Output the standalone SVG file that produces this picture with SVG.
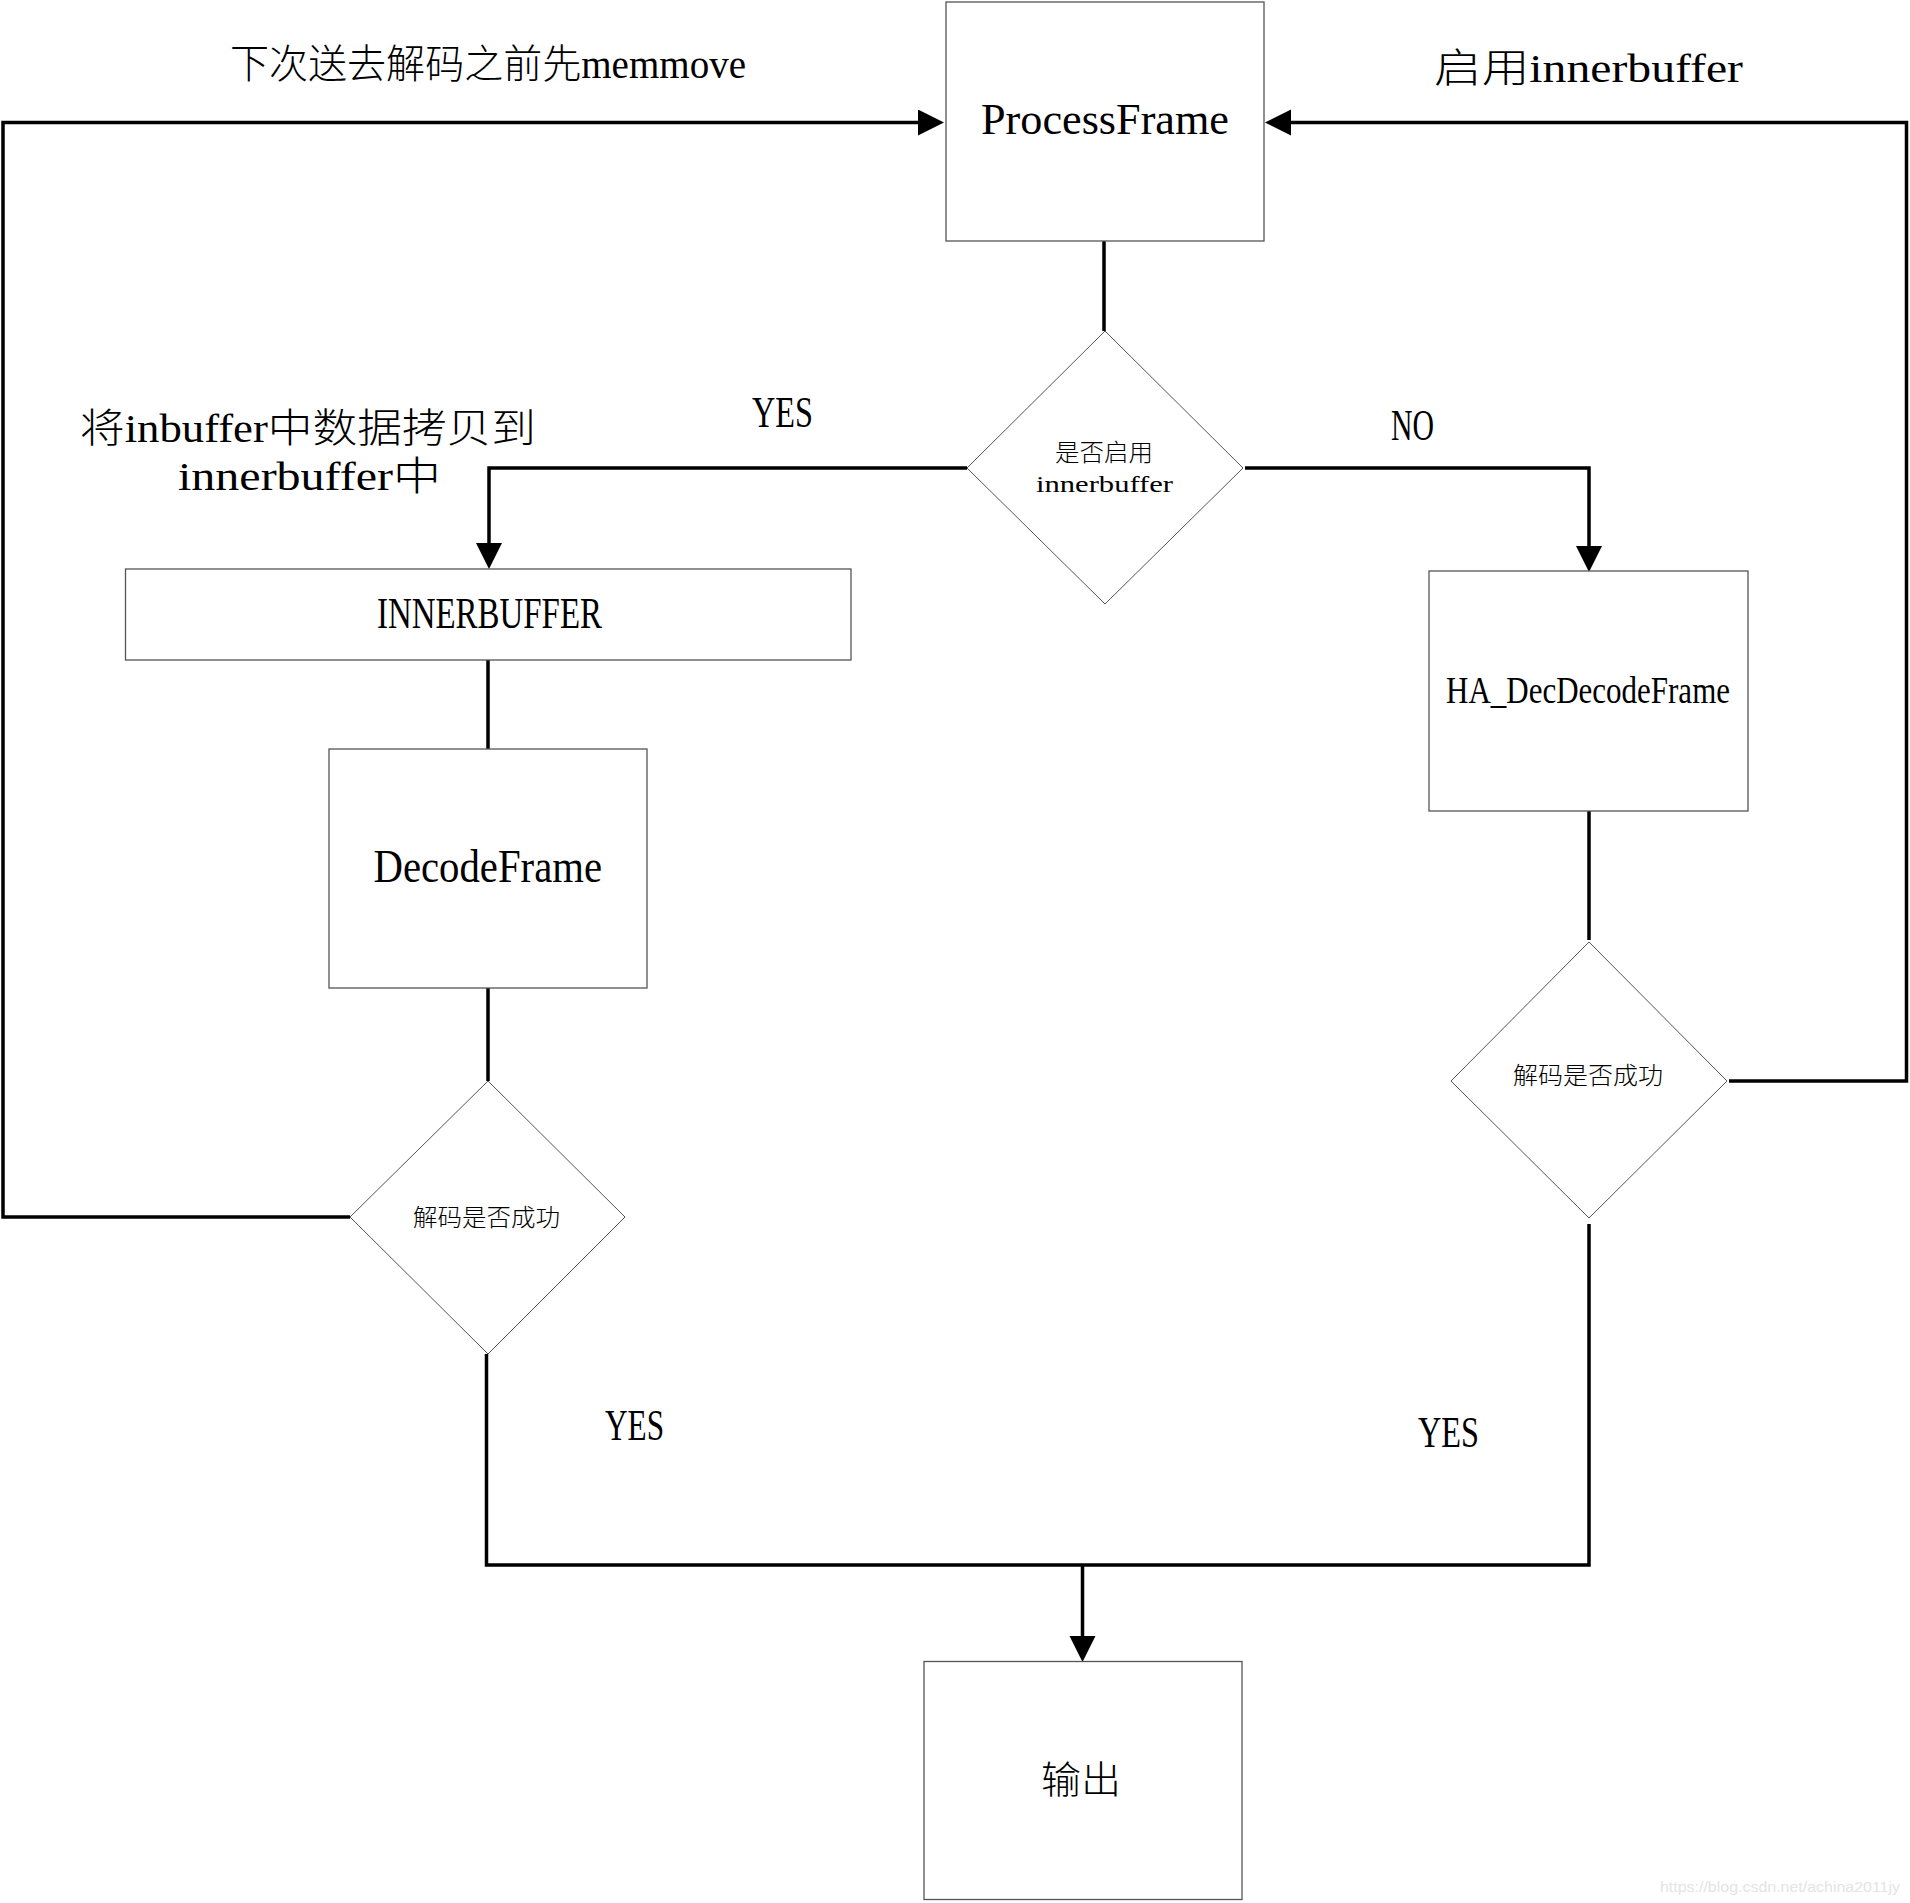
<svg xmlns="http://www.w3.org/2000/svg" width="1910" height="1903" viewBox="0 0 1910 1903">
<style>
.box{fill:#fff;stroke:#555;stroke-width:1.3}
.dia{fill:#fff;stroke:#555;stroke-width:1}
.conn{fill:none;stroke:#000;stroke-width:3.5}
text{font-family:"Liberation Serif","Noto Sans CJK SC",serif;fill:#000;font-weight:300}
.wm{font-family:"Liberation Sans",sans-serif;fill:#e4e4e4;font-size:14px}
</style>
<defs>
<marker id="arr" markerUnits="userSpaceOnUse" markerWidth="27" markerHeight="27" refX="0" refY="13" orient="auto">
<path d="M0,0 L26,13 L0,26 z" fill="#000"/>
</marker>
</defs>
<rect width="1910" height="1903" fill="#fff"/>
<g id="connectors">
<path class="conn" d="M350 1217 H3 V122.5 H918" marker-end="url(#arr)"/>
<path class="conn" d="M1729 1081 H1906.5 V122.5 H1291" marker-end="url(#arr)"/>
<path class="conn" d="M1104 241 V331"/>
<path class="conn" d="M967 468 H489 V543" marker-end="url(#arr)"/>
<path class="conn" d="M1245 468 H1589 V546" marker-end="url(#arr)"/>
<path class="conn" d="M488 660 V749"/>
<path class="conn" d="M488 988 V1081"/>
<path class="conn" d="M1589 811 V940"/>
<path class="conn" d="M1589 1224 V1565 H486.5 V1354"/>
<path class="conn" d="M1082.5 1565 V1636" marker-end="url(#arr)"/>
</g>
<g id="processframe">
<rect class="box" x="946" y="2" width="318" height="239"/>
<text x="981" y="134" font-size="44" textLength="248" lengthAdjust="spacingAndGlyphs">ProcessFrame</text>
</g>
<g id="decision-innerbuffer">
<polygon class="dia" points="1105,331 1243,468 1105,604 967,468"/>
<text x="1055" y="461" font-size="24" textLength="98" lengthAdjust="spacingAndGlyphs">是否启用</text>
<text x="1036" y="492" font-size="24" textLength="137" lengthAdjust="spacingAndGlyphs">innerbuffer</text>
</g>
<g id="innerbuffer">
<rect class="box" x="125.5" y="569" width="725.5" height="91"/>
<text x="377" y="628" font-size="44" textLength="225" lengthAdjust="spacingAndGlyphs">INNERBUFFER</text>
</g>
<g id="decodeframe">
<rect class="box" x="329" y="749" width="318" height="239"/>
<text x="373.5" y="882" font-size="46" textLength="228.5" lengthAdjust="spacingAndGlyphs">DecodeFrame</text>
</g>
<g id="decision-left">
<polygon class="dia" points="488,1081 625,1217 488,1354 350,1217"/>
<text x="413" y="1226" font-size="24" textLength="147" lengthAdjust="spacingAndGlyphs">解码是否成功</text>
</g>
<g id="ha-decdecodeframe">
<rect class="box" x="1429" y="571" width="319" height="240"/>
<text x="1446" y="703" font-size="38" textLength="284" lengthAdjust="spacingAndGlyphs">HA_DecDecodeFrame</text>
</g>
<g id="decision-right">
<polygon class="dia" points="1589,942 1727,1081 1589,1218 1451,1081"/>
<text x="1513" y="1084" font-size="24" textLength="150" lengthAdjust="spacingAndGlyphs">解码是否成功</text>
</g>
<g id="output">
<rect class="box" x="924" y="1661.5" width="318" height="238"/>
<text x="1041" y="1793" font-size="38" textLength="80" lengthAdjust="spacingAndGlyphs">输出</text>
</g>
<g id="labels">
<text x="230" y="78" font-size="40" textLength="516" lengthAdjust="spacingAndGlyphs">下次送去解码之前先memmove</text>
<text x="1434" y="82" font-size="40" textLength="309" lengthAdjust="spacingAndGlyphs">启用innerbuffer</text>
<text x="752" y="427" font-size="44" textLength="61" lengthAdjust="spacingAndGlyphs">YES</text>
<text x="1391" y="440" font-size="44" textLength="43" lengthAdjust="spacingAndGlyphs">NO</text>
<text x="80" y="442" font-size="40" textLength="456" lengthAdjust="spacingAndGlyphs">将inbuffer中数据拷贝到</text>
<text x="178" y="490" font-size="40" textLength="263" lengthAdjust="spacingAndGlyphs">innerbuffer中</text>
<text x="605" y="1440" font-size="44" textLength="59" lengthAdjust="spacingAndGlyphs">YES</text>
<text x="1418" y="1447" font-size="44" textLength="61" lengthAdjust="spacingAndGlyphs">YES</text>
<text class="wm" x="1660" y="1892" textLength="240" lengthAdjust="spacingAndGlyphs">https://blog.csdn.net/achina2011jy</text>
</g>
</svg>
